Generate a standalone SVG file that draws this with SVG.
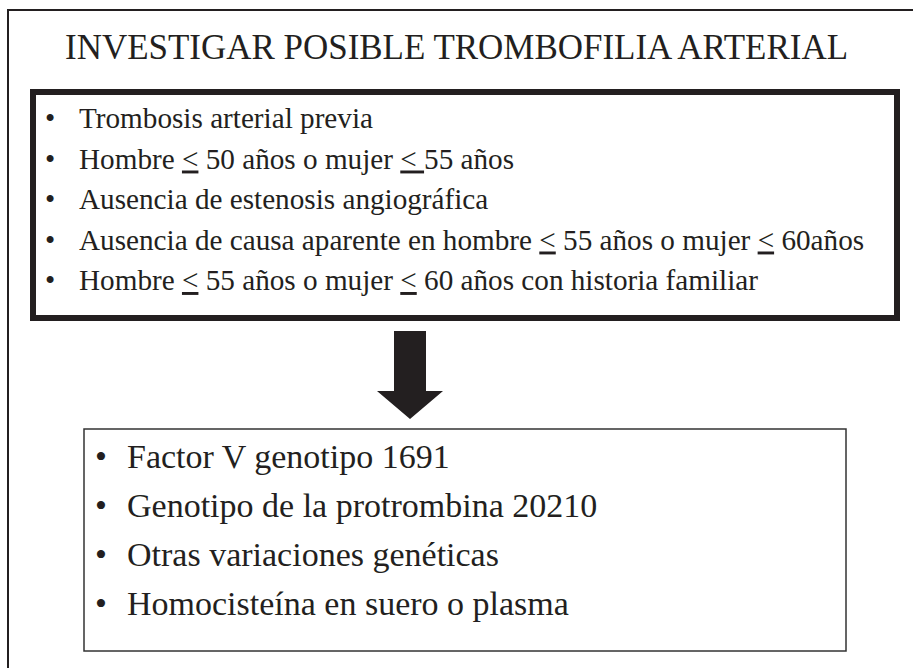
<svg xmlns="http://www.w3.org/2000/svg" width="913" height="668" viewBox="0 0 913 668">
<style>
  text { font-family: "Liberation Serif", "Times New Roman", serif; fill: #231f20; }
  .title { font-size: 35px; }
  .t1 { font-size: 29.2px; }
  .t2 { font-size: 34px; }
  .b { text-anchor: middle; }
  .u { text-decoration: underline; }
</style>
<rect width="913" height="668" fill="#ffffff"/>
<path d="M8,668 V10 H913" fill="none" stroke="#231f20" stroke-width="2"/>
<g id="title">
  <text class="title" x="456.5" y="59" text-anchor="middle" textLength="783" lengthAdjust="spacingAndGlyphs">INVESTIGAR POSIBLE TROMBOFILIA ARTERIAL</text>
</g>
<g id="criteria">
  <rect x="33" y="92" width="864" height="226" fill="none" stroke="#231f20" stroke-width="6"/>
  <text class="t1 b" x="50" y="128">•</text>
  <text class="t1" x="79" y="128">Trombosis arterial previa</text>
  <text class="t1 b" x="50" y="168.5">•</text>
  <text class="t1" x="79" y="168.5">Hombre <tspan class="u">&lt;</tspan> 50 años o mujer <tspan class="u">&lt; </tspan>55 años</text>
  <text class="t1 b" x="50" y="209">•</text>
  <text class="t1" x="79" y="209">Ausencia de estenosis angiográfica</text>
  <text class="t1 b" x="50" y="249.5">•</text>
  <text class="t1" x="79" y="249.5">Ausencia de causa aparente en hombre <tspan class="u">&lt;</tspan> 55 años o mujer <tspan class="u">&lt;</tspan> 60años</text>
  <text class="t1 b" x="50" y="290">•</text>
  <text class="t1" x="79" y="290">Hombre <tspan class="u">&lt;</tspan> 55 años o mujer <tspan class="u">&lt;</tspan> 60 años con historia familiar</text>
</g>
<g id="connectors">
  <polygon points="394,331 426,331 426,391 443,391 410,419 377,391 394,391" fill="#231f20"/>
</g>
<g id="tests">
  <rect x="84" y="429" width="762" height="222" fill="none" stroke="#333333" stroke-width="1.5"/>
  <text class="t2 b" x="101" y="468">•</text>
  <text class="t2" x="127" y="468">Factor V genotipo 1691</text>
  <text class="t2 b" x="101" y="517">•</text>
  <text class="t2" x="127" y="517">Genotipo de la protrombina 20210</text>
  <text class="t2 b" x="101" y="566">•</text>
  <text class="t2" x="127" y="566">Otras variaciones genéticas</text>
  <text class="t2 b" x="101" y="615">•</text>
  <text class="t2" x="127" y="615">Homocisteína en suero o plasma</text>
</g>
</svg>
